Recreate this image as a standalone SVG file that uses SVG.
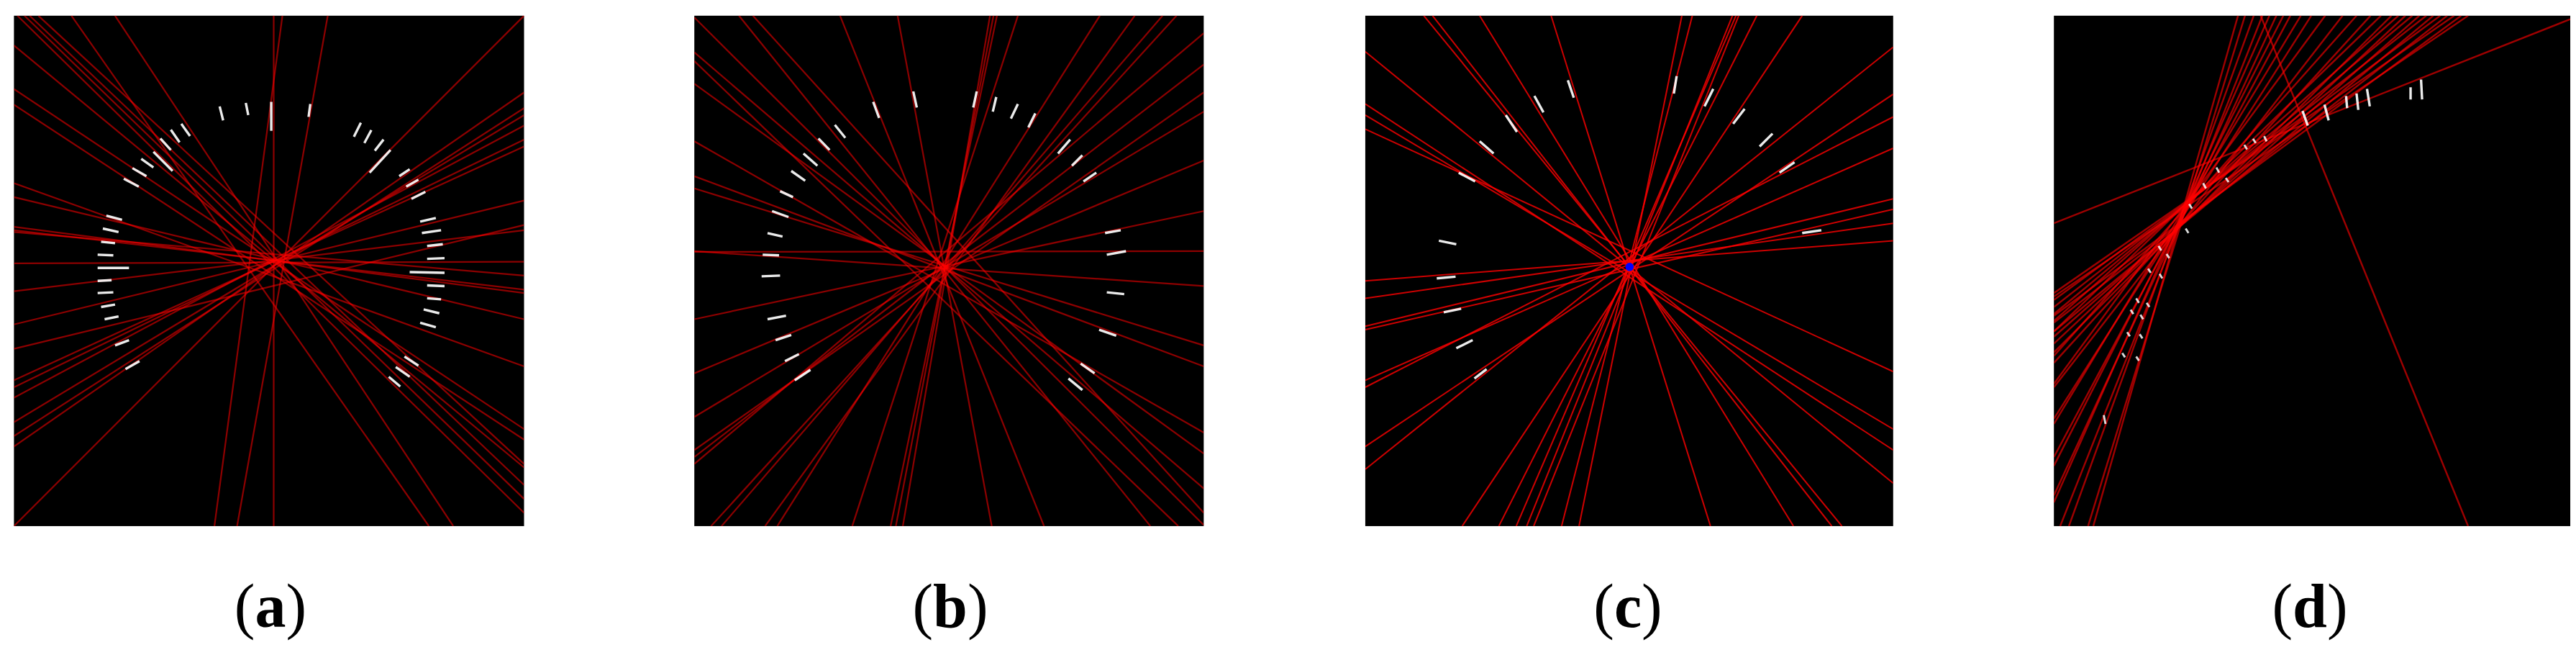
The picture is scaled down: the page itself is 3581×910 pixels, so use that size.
<svg xmlns="http://www.w3.org/2000/svg" width="3581" height="910" viewBox="0 0 3581 910">
<style>
.bg{fill:#000}
.r line{stroke:#ff0000;stroke-opacity:0.55;stroke-width:4.6;fill:none}
.rc line{stroke:#ff0000;stroke-opacity:0.8;stroke-width:4.2;fill:none}
.rd line{stroke:#ff0000;stroke-opacity:0.62;stroke-width:5;fill:none}
.w{stroke:#ffffff;stroke-width:7;stroke-opacity:0.92;fill:none}
.wd{stroke:#ffffff;stroke-width:6;stroke-opacity:0.85;fill:none}
.lbl{font-family:"Liberation Serif","Times New Roman",serif;font-size:86px;fill:#000;text-anchor:middle}
.lbl tspan{font-weight:bold}
</style>
<defs>
<clipPath id="ca"><rect x="40" y="45" width="1463" height="1463"/></clipPath>
<clipPath id="cb"><rect x="52" y="45" width="1461" height="1463"/></clipPath>
<clipPath id="cc"><rect x="37" y="45" width="1514" height="1463"/></clipPath>
<clipPath id="cd"><rect x="52" y="45" width="1481" height="1463"/></clipPath>
</defs>
<rect width="3581" height="910" fill="#fff"/>

<g id="panel-a" transform="translate(0,0) scale(0.4847)">
<rect class="bg" x="40" y="45" width="1463" height="1463"/>
<g clip-path="url(#ca)">
<g class="r">
<line x1="40" y1="130" x2="1503" y2="1340"/>
<line x1="40" y1="255" x2="1503" y2="1230"/>
<line x1="40" y1="300" x2="1503" y2="1260"/>
<line x1="40" y1="525" x2="1503" y2="1050"/>
<line x1="40" y1="565" x2="1503" y2="915"/>
<line x1="40" y1="650" x2="1503" y2="840"/>
<line x1="40" y1="660" x2="1503" y2="830"/>
<line x1="40" y1="665" x2="1503" y2="790"/>
<line x1="40" y1="755" x2="1503" y2="750"/>
<line x1="40" y1="835" x2="1503" y2="660"/>
<line x1="40" y1="930" x2="1503" y2="575"/>
<line x1="40" y1="1000" x2="1503" y2="645"/>
<line x1="40" y1="1090" x2="1503" y2="420"/>
<line x1="40" y1="1110" x2="1503" y2="400"/>
<line x1="40" y1="1140" x2="1503" y2="360"/>
<line x1="40" y1="1210" x2="1503" y2="330"/>
<line x1="40" y1="1250" x2="1503" y2="310"/>
<line x1="40" y1="1280" x2="1503" y2="265"/>
<line x1="40" y1="1508" x2="1503" y2="45"/>
<line x1="50" y1="45" x2="1503" y2="1470"/>
<line x1="70" y1="45" x2="1503" y2="1430"/>
<line x1="85" y1="45" x2="1503" y2="1390"/>
<line x1="110" y1="45" x2="1503" y2="1330"/>
<line x1="205" y1="45" x2="1230" y2="1508"/>
<line x1="330" y1="45" x2="1300" y2="1508"/>
<line x1="785" y1="45" x2="785" y2="1508"/>
<line x1="810" y1="45" x2="615" y2="1508"/>
<line x1="940" y1="45" x2="680" y2="1508"/>
</g>
<path class="w" d="M630,305L640,345M705,295L712,330M778,292L778,375M890,298L885,335
M520,355L545,390M490,372L515,408M460,397L490,430M440,435L495,490M405,455L440,480M380,482L420,505M355,512L398,535
M1035,352L1015,392M1065,373L1045,410M1100,400L1075,432M1120,430L1060,495M1175,485L1145,505M1200,515L1165,535M1220,550L1180,570
M305,618L350,630M295,655L340,665M290,693L330,697M280,730L325,732M280,768L370,768M280,805L320,803M280,840L325,838M290,880L330,873M300,915L340,907M330,990L370,975M360,1058L400,1035
M1205,635L1250,625M1210,668L1265,660M1225,705L1270,700M1225,742L1275,740M1175,780L1275,782M1225,818L1275,820M1225,855L1265,858M1215,887L1260,898M1205,925L1250,938M1160,1022L1200,1048M1135,1052L1175,1080M1115,1080L1148,1108"/>
</g>
</g>

<g id="panel-b" transform="translate(940,0) scale(0.4847)">
<rect class="bg" x="52" y="45" width="1461" height="1463"/>
<g clip-path="url(#cb)">
<g class="r">
<line x1="52" y1="50" x2="1513" y2="1505"/>
<line x1="52" y1="150" x2="1513" y2="1400"/>
<line x1="52" y1="175" x2="1440" y2="1508"/>
<line x1="52" y1="240" x2="1513" y2="1300"/>
<line x1="52" y1="405" x2="1513" y2="1240"/>
<line x1="52" y1="505" x2="1513" y2="1050"/>
<line x1="52" y1="540" x2="1513" y2="990"/>
<line x1="52" y1="720" x2="1513" y2="820"/>
<line x1="52" y1="722" x2="1513" y2="720"/>
<line x1="52" y1="915" x2="1513" y2="605"/>
<line x1="52" y1="1070" x2="1513" y2="460"/>
<line x1="52" y1="1195" x2="1513" y2="320"/>
<line x1="52" y1="1290" x2="1513" y2="265"/>
<line x1="52" y1="1310" x2="1513" y2="185"/>
<line x1="52" y1="1330" x2="1513" y2="95"/>
<line x1="180" y1="45" x2="1360" y2="1508"/>
<line x1="220" y1="45" x2="1513" y2="1470"/>
<line x1="470" y1="45" x2="1055" y2="1508"/>
<line x1="635" y1="45" x2="905" y2="1508"/>
<line x1="900" y1="45" x2="650" y2="1508"/>
<line x1="910" y1="45" x2="630" y2="1508"/>
<line x1="920" y1="45" x2="615" y2="1508"/>
<line x1="980" y1="45" x2="505" y2="1508"/>
<line x1="1215" y1="45" x2="290" y2="1508"/>
<line x1="1315" y1="45" x2="255" y2="1508"/>
<line x1="1395" y1="45" x2="130" y2="1508"/>
<line x1="1435" y1="45" x2="100" y2="1508"/>
</g>
<path class="w" d="M565,292L582,338M680,262L690,308M862,262L852,308M918,278L908,320M980,298L960,340M1030,325L1010,365
M455,358L485,395M408,397L440,430M365,440L405,475M330,490L370,518M298,548L335,565M275,605L322,622M262,668L305,678M248,730L295,732M245,792L298,790M262,915L315,905M285,975L330,960M312,1035L352,1015M340,1090L385,1060
M1130,400L1095,440M1165,445L1135,475M1205,495L1168,520M1230,668L1275,660M1235,730L1290,720M1235,838L1285,843M1213,945L1262,962M1160,1042L1200,1070M1125,1085L1165,1118"/>
</g>
</g>

<g id="panel-c" transform="translate(1880,0) scale(0.4847)">
<rect class="bg" x="37" y="45" width="1514" height="1463"/>
<g clip-path="url(#cc)">
<g class="rc">
<line x1="205" y1="45" x2="1404" y2="1508"/>
<line x1="230" y1="45" x2="1375" y2="1508"/>
<line x1="365" y1="45" x2="1265" y2="1508"/>
<line x1="570" y1="45" x2="1027" y2="1508"/>
<line x1="945" y1="45" x2="650" y2="1508"/>
<line x1="975" y1="45" x2="600" y2="1508"/>
<line x1="1090" y1="45" x2="500" y2="1508"/>
<line x1="1100" y1="45" x2="470" y2="1508"/>
<line x1="1108" y1="45" x2="520" y2="1508"/>
<line x1="1160" y1="45" x2="420" y2="1508"/>
<line x1="1290" y1="45" x2="315" y2="1508"/>
<line x1="37" y1="1345" x2="1551" y2="135"/>
<line x1="37" y1="148" x2="1551" y2="1385"/>
<line x1="37" y1="298" x2="1551" y2="1290"/>
<line x1="37" y1="330" x2="1551" y2="1230"/>
<line x1="37" y1="370" x2="1551" y2="1065"/>
<line x1="37" y1="805" x2="1551" y2="690"/>
<line x1="37" y1="855" x2="1551" y2="640"/>
<line x1="37" y1="935" x2="1551" y2="570"/>
<line x1="37" y1="945" x2="1551" y2="600"/>
<line x1="37" y1="1090" x2="1551" y2="425"/>
<line x1="37" y1="1110" x2="1551" y2="335"/>
<line x1="37" y1="1280" x2="1551" y2="270"/>
</g>
<path class="w" d="M618,230L635,280M522,275L548,322M440,330L472,378M365,405L405,440M305,495L352,520M248,690L298,700M242,798L296,793M262,895L312,885M298,998L345,975M350,1085L385,1058
M930,218L922,268M1035,255L1010,305M1125,312L1092,355M1205,383L1168,420M1268,465L1225,495M1290,668L1345,660"/>
<circle cx="795" cy="765" r="12" fill="#0000ff"/>
</g>
</g>

<g id="panel-d" transform="translate(2830,0) scale(0.4847)">
<rect class="bg" x="52" y="45" width="1481" height="1463"/>
<g clip-path="url(#cd)">
<g class="rd">
<line x1="52" y1="640" x2="1533" y2="55"/>
<line x1="645" y1="45" x2="1240" y2="1508"/>
<line x1="1240" y1="45" x2="52" y2="850"/>
<line x1="1220" y1="45" x2="52" y2="905"/>
<line x1="1200" y1="45" x2="52" y2="840"/>
<line x1="1180" y1="45" x2="52" y2="925"/>
<line x1="1160" y1="45" x2="52" y2="860"/>
<line x1="1140" y1="45" x2="52" y2="950"/>
<line x1="1120" y1="45" x2="52" y2="880"/>
<line x1="1100" y1="45" x2="52" y2="965"/>
<line x1="1080" y1="45" x2="52" y2="900"/>
<line x1="1060" y1="45" x2="52" y2="985"/>
<line x1="1040" y1="45" x2="52" y2="920"/>
<line x1="1020" y1="45" x2="52" y2="1010"/>
<line x1="990" y1="45" x2="52" y2="950"/>
<line x1="960" y1="45" x2="52" y2="1040"/>
<line x1="920" y1="45" x2="52" y2="1020"/>
<line x1="880" y1="45" x2="52" y2="1110"/>
<line x1="830" y1="45" x2="52" y2="1100"/>
<line x1="790" y1="45" x2="52" y2="1200"/>
<line x1="760" y1="45" x2="52" y2="1215"/>
<line x1="730" y1="45" x2="52" y2="1310"/>
<line x1="710" y1="45" x2="52" y2="1335"/>
<line x1="690" y1="45" x2="52" y2="1420"/>
<line x1="670" y1="45" x2="52" y2="1440"/>
<line x1="650" y1="45" x2="70" y2="1508"/>
<line x1="625" y1="45" x2="95" y2="1508"/>
<line x1="600" y1="45" x2="150" y2="1508"/>
<line x1="580" y1="45" x2="165" y2="1508"/>
</g>
<path class="w" d="M1075,250L1075,285M1105,228L1108,285M890,275L893,310M920,268L925,315M950,255L958,305M828,300L840,345M765,318L780,360"/>
<path class="wd" d="M598,415L606,428M623,398L631,410M655,390L662,405M518,480L526,495M545,510L553,522M480,525L488,540M440,585L448,598M430,655L438,668M352,705L360,718M375,728L383,740M322,770L330,782M355,785L363,798M288,855L296,868M318,868L326,880M272,888L280,900M300,902L308,915M262,952L270,964M298,958L306,970M248,1012L256,1024M288,1022L296,1034M195,1190L200,1215"/>
</g>
</g>

<g id="labels">
<text class="lbl" x="376" y="871">(<tspan>a</tspan>)</text>
<text class="lbl" x="1321" y="871">(<tspan>b</tspan>)</text>
<text class="lbl" x="2263" y="871">(<tspan>c</tspan>)</text>
<text class="lbl" x="3211" y="871">(<tspan>d</tspan>)</text>
</g>
</svg>
